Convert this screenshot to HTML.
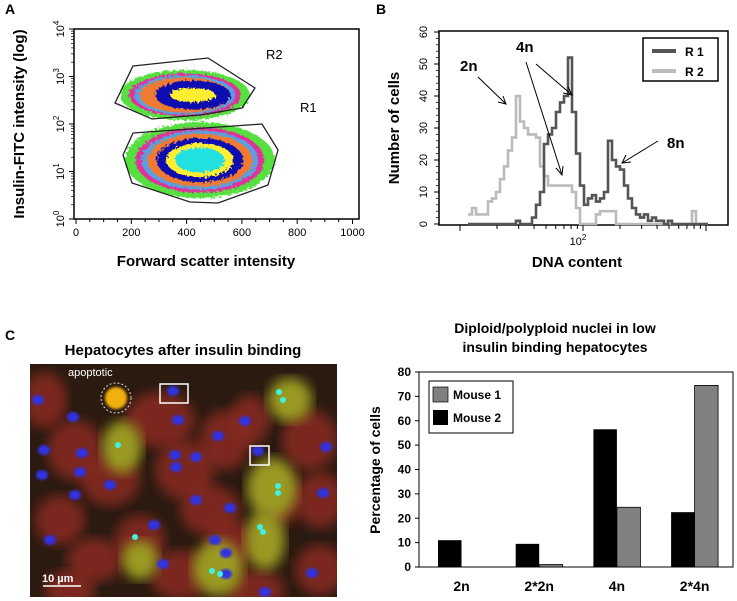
<!DOCTYPE html>
<html><head><meta charset="utf-8">
<style>
body{margin:0;background:#fff;width:737px;height:601px;overflow:hidden;font-family:"Liberation Sans",Arial,sans-serif}
svg{position:absolute;left:0;top:0}
text{font-family:"Liberation Sans",Arial,sans-serif}
</style></head>
<body>
<svg id="fig" width="737" height="601" viewBox="0 0 737 601">
<defs>
<filter id="blur3"><feGaussianBlur stdDeviation="3"/></filter>
<filter id="blur6"><feGaussianBlur stdDeviation="6"/></filter>
<filter id="blur1"><feGaussianBlur stdDeviation="1.2"/></filter>
<filter id="rough"><feTurbulence type="fractalNoise" baseFrequency="0.4" numOctaves="2" result="n"/><feDisplacementMap in="SourceGraphic" in2="n" scale="6"/></filter>
<clipPath id="imgclip"><rect x="30" y="364" width="307" height="233"/></clipPath>
</defs>

<!-- Panel A -->
<g>
<text x="5" y="14" font-size="14" font-weight="bold">A</text>
<rect x="74" y="29" width="285" height="190" fill="#fff" stroke="#000" stroke-width="1.5"/>
<g id="blobs" filter="url(#rough)"></g>
<polygon points="133,66 208,58 255,88 242,108 200,115 152,119 115,103" fill="none" stroke="#222" stroke-width="1.3"/>
<polygon points="133,133 262,124 278,150 268,185 218,203 190,202 132,183 123,155" fill="none" stroke="#222" stroke-width="1.3"/>
<text x="266" y="59" font-size="13">R2</text>
<text x="300" y="112" font-size="13">R1</text>
<g id="axA"></g>
<text transform="translate(24,124) rotate(-90)" text-anchor="middle" font-size="15" font-weight="bold">Insulin-FITC intensity (log)</text>
<text x="206" y="266" text-anchor="middle" font-size="15" font-weight="bold">Forward scatter intensity</text>
</g>

<!-- Panel B -->
<g>
<text x="376" y="14" font-size="14" font-weight="bold">B</text>
<rect x="439" y="31" width="289" height="194" fill="#fff" stroke="#000" stroke-width="1.5"/>
<g id="hist"></g>
<g id="axB"></g>
<g>
<rect x="643" y="38" width="75" height="43" fill="#fff" stroke="#000" stroke-width="1.5"/>
<line x1="652" y1="51" x2="676" y2="51" stroke="#555" stroke-width="4"/>
<line x1="652" y1="71" x2="676" y2="71" stroke="#bbb" stroke-width="4"/>
<text x="685" y="56" font-size="12" font-weight="bold">R 1</text>
<text x="685" y="76" font-size="12" font-weight="bold">R 2</text>
</g>
<g stroke="#000" stroke-width="1" fill="none">
<line x1="478" y1="77" x2="506" y2="104"/><polyline points="498,102 506,104 503,96"/>
<line x1="526" y1="62" x2="562" y2="175"/><polyline points="556,168 562,175 563,166"/>
<line x1="536" y1="64" x2="572" y2="95"/><polyline points="563,93 572,95 568,87"/>
<line x1="658" y1="141" x2="622" y2="163"/><polyline points="626,155 622,163 631,162"/>
</g>
<text x="460" y="71" font-size="15" font-weight="bold">2n</text>
<text x="516" y="52" font-size="15" font-weight="bold">4n</text>
<text x="667" y="148" font-size="15" font-weight="bold">8n</text>
<text transform="translate(399,128) rotate(-90)" text-anchor="middle" font-size="15" font-weight="bold">Number of cells</text>
<text x="577" y="267" text-anchor="middle" font-size="15" font-weight="bold">DNA content</text>
</g>

<!-- Panel C micrograph -->
<g>
<text x="5" y="340" font-size="14" font-weight="bold">C</text>
<text x="183" y="355" text-anchor="middle" font-size="15" font-weight="bold">Hepatocytes after insulin binding</text>
<g clip-path="url(#imgclip)">
<rect x="30" y="364" width="307" height="233" fill="#2a1a10"/>
<g id="cells"></g>
</g>
<text x="68" y="376" font-size="11" fill="#fff">apoptotic</text>
<circle cx="116" cy="398" r="15" fill="none" stroke="#ddd" stroke-dasharray="2,2"/>
<rect x="160" y="384" width="28" height="19" fill="none" stroke="#fff" stroke-width="1.5"/>
<rect x="250" y="446" width="19" height="19" fill="none" stroke="#fff" stroke-width="1.5"/>
<line x1="43" y1="586" x2="81" y2="586" stroke="#fff" stroke-width="1.5"/>
<text x="42" y="582" font-size="11" font-weight="bold" fill="#fff">10 µm</text>
</g>

<!-- Panel C bars -->
<g>
<text x="555" y="333" text-anchor="middle" font-size="14" font-weight="bold">Diploid/polyploid nuclei in low</text>
<text x="555" y="352" text-anchor="middle" font-size="14" font-weight="bold">insulin binding hepatocytes</text>
<rect x="419" y="372" width="314" height="195" fill="#fff" stroke="#000" stroke-width="1"/>
<g id="bars"></g>
<g id="axC"></g>
<text transform="translate(380,470) rotate(-90)" text-anchor="middle" font-size="14" font-weight="bold">Percentage of cells</text>
<g>
<rect x="429" y="381" width="84" height="52" fill="#fff" stroke="#000" stroke-width="1"/>
<rect x="433" y="387" width="15" height="15" fill="#808080" stroke="#000" stroke-width="0.7"/>
<rect x="433" y="410" width="15" height="15" fill="#000"/>
<text x="453" y="399" font-size="12" font-weight="bold">Mouse 1</text>
<text x="453" y="422" font-size="12" font-weight="bold">Mouse 2</text>
</g>
</g>
</svg>

<script>
const NS="http://www.w3.org/2000/svg";
function mk(tag,attrs,parent){const e=document.createElementNS(NS,tag);for(const k in attrs)e.setAttribute(k,attrs[k]);parent.appendChild(e);return e;}

// ---------- Panel A data ----------
const aXTicks=[0,200,400,600,800,1000];
const aYExp=[0,1,2,3,4];
const popCenters=[[394,2.61],[448,1.24]]; // forward scatter, log10 intensity
const popSpread=[[235,0.53],[271,0.8]];
const blobColors=["#55e040","#e0309a","#5aa0e0","#f07a30","#0a10b0","#ffee33","#20e0e0"];
const blobScale=[1,0.86,0.78,0.7,0.58,0.45,0.33];
function axX(v){return 76+v*0.2765;}
function axY(e){return 219-e*47.5;}
const blobs=document.getElementById('blobs');
popCenters.forEach((c,pi)=>{
  blobColors.forEach((col,bi)=>{
    if(pi===0&&bi===6)return;
    let sx=blobScale[bi],sy=blobScale[bi];
    if(pi===0&&bi===5){sx=0.35;sy=0.28;}
    const el=mk('ellipse',{cx:axX(c[0])+(pi===0&&bi>=4?8:0),cy:axY(c[1]),rx:popSpread[pi][0]*0.2765*sx,ry:popSpread[pi][1]*47.5*sy,fill:col},blobs);
    
    
  });
});
const axA=document.getElementById('axA');
aXTicks.forEach(v=>{
  mk('line',{x1:axX(v),y1:219,x2:axX(v),y2:224,stroke:'#000'},axA);
  const t=mk('text',{x:axX(v),y:236,'text-anchor':'middle','font-size':11},axA);t.textContent=v;
  
  
});
for(let v=50;v<1000;v+=50){if(v%200)mk('line',{x1:axX(v),y1:219,x2:axX(v),y2:222,stroke:'#000'},axA);}
aYExp.forEach(e=>{
  mk('line',{x1:69,y1:axY(e),x2:74,y2:axY(e),stroke:'#000'},axA);
  if(e<4)for(let m=2;m<10;m++){const y=axY(e+Math.log10(m));mk('line',{x1:71,y1:y,x2:74,y2:y,stroke:'#000','stroke-width':0.7},axA);}
  const t=mk('text',{transform:`translate(64,${axY(e)}) rotate(-90)`,'text-anchor':'middle','font-size':11},axA);
  t.innerHTML='10<tspan dy="-5" font-size="8">'+e+'</tspan>';
  
  
});

// ---------- Panel B data ----------
const r2Counts=[3,5,3,3,3,7,8,10,14,18,23,27,40,32,30,28,28,27,18,15,12,12,12,12,12,12,10,5,0,0,0,0,3,4,4,4,4,0,0,0,0,0,0,0,0,0,0,0,0,0,0,0,0,0,0,0,4,0,0,0];
const r1Counts=[0,0,0,0,0,0,0,0,0,0,0,0,1,0,0,0,2,6,10,25,28,30,35,38,40,52,35,22,12,6,8,9,7,8,10,26,20,18,17,12,8,5,3,2,3,1,2,1,1,0,1,0,0,0,0,0,0,0,0,0];
const bYTicks=[0,10,20,30,40,50,60];
function binX(i){return 468+i*4;}
function cntY(v){return 224-v*3.2;}
function stepPath(arr){let d=`M${binX(0)},${cntY(arr[0])}`;arr.forEach((v,i)=>{d+=` H${binX(i)} V${cntY(v)} H${binX(i+1)}`;});return d;}
const hist=document.getElementById('hist');
const p2=mk('path',{d:stepPath(r2Counts),fill:'none',stroke:'#bbb','stroke-width':2.6},hist);


const p1=mk('path',{d:stepPath(r1Counts),fill:'none',stroke:'#555','stroke-width':2.6},hist);


const axB=document.getElementById('axB');
bYTicks.forEach(v=>{
  mk('line',{x1:434,y1:cntY(v),x2:439,y2:cntY(v),stroke:'#000'},axB);
  const t=mk('text',{transform:`translate(427,${cntY(v)}) rotate(-90)`,'text-anchor':'middle','font-size':11},axB);t.textContent=v;
  
  
});
for(let v=2;v<60;v+=2){if(v%10)mk('line',{x1:436,y1:cntY(v),x2:439,y2:cntY(v),stroke:'#000','stroke-width':0.7},axB);}
function logX(v){return 583+(Math.log10(v)-2)*123;}
for(let d=1;d<=3;d++)for(let m=1;m<10;m++){const v=m*Math.pow(10,d);const x=logX(v);if(x>440&&x<727)mk('line',{x1:x,y1:225,x2:x,y2:m===1?231:229,stroke:'#000'},axB);}
const t100=mk('text',{x:578,y:245,'text-anchor':'middle','font-size':11},axB);t100.innerHTML='10<tspan dy="-5" font-size="8">2</tspan>';



// ---------- micrograph ----------
const cellsG=document.getElementById('cells');
const redCells=[[45,400,22,28],[75,450,28,30],[110,480,30,26],[60,520,25,25],[95,560,28,22],[160,420,35,28],[185,470,30,30],[225,440,25,30],[210,510,30,25],[250,420,20,25],[310,440,28,30],[320,500,25,28],[280,500,20,25],[140,540,25,25],[180,575,30,25],[230,545,25,25],[255,590,30,20],[320,570,25,25],[70,590,25,20]];
redCells.forEach(c=>mk('ellipse',{cx:c[0],cy:c[1],rx:c[2],ry:c[3],fill:'#8a2a20',filter:'url(#blur6)',opacity:0.85},cellsG));
const greenCells=[[122,447,20,26],[290,400,22,22],[272,488,25,30],[265,540,20,30],[140,560,18,20],[218,568,25,28]];
greenCells.forEach(c=>mk('ellipse',{cx:c[0],cy:c[1],rx:c[2],ry:c[3],fill:'#9a9a20',filter:'url(#blur6)'},cellsG));
mk('circle',{cx:116,cy:398,r:11,fill:'#f0b010',filter:'url(#blur1)'},cellsG);
const blueNuc=[[38,400],[73,417],[44,450],[82,453],[42,475],[80,472],[75,495],[110,485],[173,391],[178,420],[175,455],[196,457],[176,467],[218,436],[245,421],[258,451],[326,447],[323,493],[196,500],[230,508],[154,525],[215,540],[226,553],[163,564],[226,574],[50,540],[312,573],[265,592]];
blueNuc.forEach(c=>mk('ellipse',{cx:c[0],cy:c[1],rx:6,ry:5,fill:'#3030e0',filter:'url(#blur1)'},cellsG));
const cyanNuc=[[118,445],[279,392],[283,400],[278,486],[278,493],[260,527],[263,532],[135,537],[212,571],[220,574]];
cyanNuc.forEach(c=>mk('circle',{cx:c[0],cy:c[1],r:3,fill:'#40f0e0'},cellsG));

// ---------- Panel C bars ----------
const categories=["2n","2*2n","4n","2*4n"];
const mouse2=[11,9.5,56.5,22.5];
const mouse1=[0,1,24.5,74.5];
const cYTicks=[0,10,20,30,40,50,60,70,80];
function catX(i){return 438+i*77.7;}
function pctY(v){return 567-v*2.4375;}
const barsG=document.getElementById('bars');
const bw=23.5;
categories.forEach((c,i)=>{
  const b2=mk('rect',{x:catX(i),y:pctY(mouse2[i]),width:bw,height:567-pctY(mouse2[i]),fill:'#000'},barsG);
  
  
  const b1=mk('rect',{x:catX(i)+bw,y:pctY(mouse1[i]),width:bw,height:567-pctY(mouse1[i]),fill:'#808080',stroke:'#000','stroke-width':0.8},barsG);
  
  
  const t=mk('text',{x:catX(i)+bw,y:591,'text-anchor':'middle','font-size':14,'font-weight':'bold'},barsG);t.textContent=c;
  
  
});
const axC=document.getElementById('axC');
cYTicks.forEach(v=>{
  mk('line',{x1:415,y1:pctY(v),x2:419,y2:pctY(v),stroke:'#000'},axC);
  const t=mk('text',{x:411,y:pctY(v)+4,'text-anchor':'end','font-size':12,'font-weight':'bold'},axC);t.textContent=v;
  
  
});
</script>
</body></html>
